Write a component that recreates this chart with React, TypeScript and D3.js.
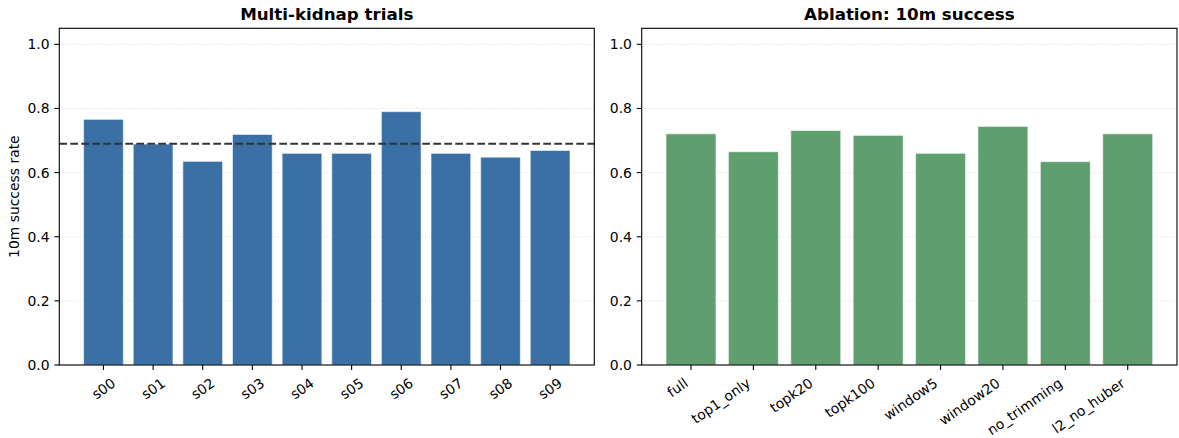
import React from "react";
import * as d3 from "d3";

// Per-trial 10 m success rate (multi-kidnap runs)
const trialNames = ["s00", "s01", "s02", "s03", "s04", "s05", "s06", "s07", "s08", "s09"];
const trialRates = [0.766, 0.689, 0.635, 0.719, 0.660, 0.660, 0.790, 0.660, 0.648, 0.669];

// Ablation variants, 10 m success rate
const ablationNames = ["full", "top1_only", "topk20", "topk100", "window5", "window20", "no_trimming", "l2_no_huber"];
const ablationRates = [0.721, 0.665, 0.731, 0.716, 0.660, 0.744, 0.634, 0.721];

const yTicks = [0.0, 0.2, 0.4, 0.6, 0.8, 1.0];

const W = 1179;
const H = 438;
const FONT = "'DejaVu Sans', sans-serif";
const TICK_FS = 13.9;
const TITLE_FS = 16.7;
const TICK_LEN = 4.9;
const TICK_PAD = 4.9;
const ROT = 35;

type PanelProps = {
  left: number;
  right: number;
  top: number;
  bottom: number;
  names: string[];
  values: number[];
  color: string;
  title: string;
  ylabel?: string;
  meanLine?: boolean;
  labelAlign: "center" | "right";
};

function Panel(p: PanelProps) {
  const n = p.values.length;
  const margin = (n - 1 + 0.8) * 0.05;
  const x = d3.scaleLinear().domain([-0.4 - margin, n - 1 + 0.4 + margin]).range([p.left, p.right]);
  const y = d3.scaleLinear().domain([0, 1.05]).range([p.bottom, p.top]);
  const barW = x(0.8) - x(0);
  const mean = d3.mean(p.values) ?? 0;
  const labelTop = p.bottom + TICK_LEN + TICK_PAD;
  const rad = (ROT * Math.PI) / 180;
  const asc = 0.928 * TICK_FS;
  const desc = 0.236 * TICK_FS;
  const clipId = `clip-${p.left}`;

  return (
    <g>
      <defs>
        <clipPath id={clipId}>
          <rect x={p.left} y={p.top} width={p.right - p.left} height={p.bottom - p.top} />
        </clipPath>
      </defs>
      {/* horizontal dotted grid */}
      {yTicks.map((t) => (
        <line
          key={`g${t}`}
          x1={p.left}
          x2={p.right}
          y1={y(t)}
          y2={y(t)}
          stroke="#b0b0b0"
          strokeOpacity={0.6}
          strokeWidth={0.8}
          strokeDasharray="1,2"
        />
      ))}
      {/* bars */}
      <g clipPath={`url(#${clipId})`}>
        {p.values.map((v, i) => (
          <rect
            key={p.names[i]}
            x={x(i - 0.4)}
            y={y(v)}
            width={barW}
            height={y(0) - y(v)}
            fill={p.color}
            stroke="#ffffff"
            strokeOpacity={0.55}
            strokeWidth={1}
          />
        ))}
        {p.meanLine && (
          <line
            x1={p.left}
            x2={p.right}
            y1={y(mean)}
            y2={y(mean)}
            stroke="#333333"
            strokeWidth={2}
            strokeDasharray="7.7,3.3"
          />
        )}
      </g>
      {/* frame */}
      <rect
        x={p.left}
        y={p.top}
        width={p.right - p.left}
        height={p.bottom - p.top}
        fill="none"
        stroke="#000"
        strokeWidth={1.1}
      />
      {/* y ticks */}
      {yTicks.map((t) => (
        <g key={`y${t}`}>
          <line x1={p.left - TICK_LEN} x2={p.left} y1={y(t)} y2={y(t)} stroke="#000" strokeWidth={1.1} />
          <text
            x={p.left - TICK_LEN - TICK_PAD}
            y={y(t)}
            dy="0.36em"
            textAnchor="end"
            fontSize={TICK_FS}
            fontFamily={FONT}
            fill="#000"
          >
            {d3.format(".1f")(t)}
          </text>
        </g>
      ))}
      {/* x ticks */}
      {p.names.map((name, i) => {
        const tx = x(i);
        let label;
        if (p.labelAlign === "center") {
          const w = name.length * 0.6 * TICK_FS;
          const hgt = asc + desc;
          const bh = w * Math.sin(rad) + hgt * Math.cos(rad);
          const cy = labelTop + bh / 2;
          label = (
            <text
              transform={`translate(${tx},${cy}) rotate(${-ROT})`}
              textAnchor="middle"
              dominantBaseline="central"
              fontSize={TICK_FS}
              fontFamily={FONT}
              fill="#000"
            >
              {name}
            </text>
          );
        } else {
          const ax = tx - desc * Math.sin(rad);
          const ay = labelTop + asc * Math.cos(rad);
          label = (
            <text
              transform={`translate(${ax},${ay}) rotate(${-ROT})`}
              textAnchor="end"
              fontSize={TICK_FS}
              fontFamily={FONT}
              fill="#000"
            >
              {name}
            </text>
          );
        }
        return (
          <g key={`x${name}`}>
            <line x1={tx} x2={tx} y1={p.bottom} y2={p.bottom + TICK_LEN} stroke="#000" strokeWidth={1.1} />
            {label}
          </g>
        );
      })}
      {/* title */}
      <text
        x={(p.left + p.right) / 2}
        y={p.top - 8}
        textAnchor="middle"
        fontSize={TITLE_FS}
        fontWeight="bold"
        fontFamily={FONT}
        fill="#000"
      >
        {p.title}
      </text>
      {p.ylabel && (
        <text
          transform={`translate(${19},${(p.top + p.bottom) / 2}) rotate(-90)`}
          textAnchor="middle"
          fontSize={TICK_FS}
          fontFamily={FONT}
          fill="#000"
        >
          {p.ylabel}
        </text>
      )}
    </g>
  );
}

export default function App() {
  return (
    <svg width={W} height={H} style={{ display: "block", position: "absolute", left: 0, top: 0, background: "#fff" }}>
      <rect width={W} height={H} fill="#fff" />
      <Panel
        left={59.3}
        right={594.3}
        top={28.3}
        bottom={365}
        names={trialNames}
        values={trialRates}
        color="#3a70a6"
        title="Multi-kidnap trials"
        ylabel="10m success rate"
        meanLine
        labelAlign="center"
      />
      <Panel
        left={641.7}
        right={1177}
        top={28.3}
        bottom={365}
        names={ablationNames}
        values={ablationRates}
        color="#5f9e6e"
        title="Ablation: 10m success"
        labelAlign="right"
      />
    </svg>
  );
}
